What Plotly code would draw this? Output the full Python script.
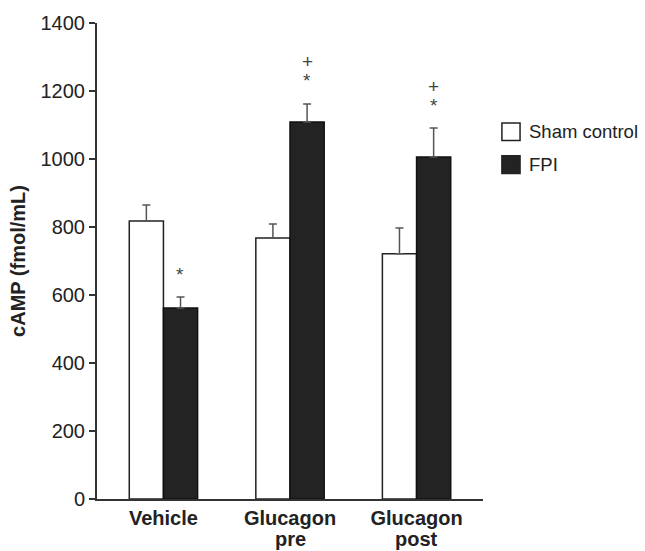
import plotly.graph_objects as go

categories = ["Vehicle", "Glucagon pre", "Glucagon post"]
label_line1 = ["Vehicle", "Glucagon", "Glucagon"]
label_line2 = ["", "pre", "post"]
series_names = ["Sham control", "FPI"]
sham_values = [818, 768, 721]
sham_err = [47, 41, 76]
fpi_values = [562, 1109, 1006]
fpi_err = [32, 53, 85]
fpi_star = [True, True, True]
fpi_plus = [False, True, True]
y_ticks = [0, 200, 400, 600, 800, 1000, 1200, 1400]

FONT = "Liberation Sans, Arial, sans-serif"
sham_fill, fpi_fill = "white", "#232323"

fig = go.Figure()
fig.add_trace(go.Bar(
    name=series_names[0], x=categories, y=sham_values,
    marker=dict(color=sham_fill, line=dict(color="#222", width=1.5)),
    error_y=dict(type="data", symmetric=False, array=sham_err, arrayminus=[0] * 3,
                 color="#555", thickness=1.5, width=4),
))
fig.add_trace(go.Bar(
    name=series_names[1], x=categories, y=fpi_values,
    marker=dict(color=fpi_fill, line=dict(color="#111", width=1.5)),
    error_y=dict(type="data", symmetric=False, array=fpi_err, arrayminus=[0] * 3,
                 color="#555", thickness=1.5, width=4),
))

# significance marks above FPI bars
for cat, v, e, s, p in zip(categories, fpi_values, fpi_err, fpi_star, fpi_plus):
    if s:
        fig.add_annotation(x=cat, y=v + e, text="*", showarrow=False, xshift=17,
                           yshift=23, font=dict(size=19, color="#444", family=FONT))
    if p:
        fig.add_annotation(x=cat, y=v + e, text="+", showarrow=False, xshift=17,
                           yshift=42, font=dict(size=19, color="#444", family=FONT))

# second line of category labels
for cat, l2 in zip(categories, label_line2):
    if l2:
        fig.add_annotation(x=cat, y=0, yref="paper", text="<b>%s</b>" % l2, showarrow=False,
                           yanchor="top", yshift=-27, font=dict(size=20, color="#222", family=FONT))

# legend (boxes + labels)
leg = [(series_names[0], sham_fill, 0.790), (series_names[1], fpi_fill, 0.721)]
for name, fill, ytop in leg:
    fig.add_shape(type="rect", xref="paper", yref="paper", x0=1.049, x1=1.096,
                  y0=ytop - 0.037, y1=ytop, fillcolor=fill, line=dict(color="#222", width=1.5))
    fig.add_annotation(xref="paper", yref="paper", x=1.113, y=ytop - 0.0185, text=name,
                       xanchor="left", yanchor="middle", showarrow=False,
                       font=dict(size=18.5, color="#222", family=FONT))

fig.update_layout(
    width=645, height=551,
    margin=dict(l=97, r=162, t=23, b=52),
    plot_bgcolor="white", paper_bgcolor="white",
    barmode="group", bargap=0.46, bargroupgap=0,
    font=dict(family=FONT, color="#222", size=20),
    showlegend=False,
)
fig.update_yaxes(
    range=[0, 1400], tickvals=y_ticks, showgrid=False, zeroline=False,
    showline=True, linecolor="#333", linewidth=2,
    ticks="outside", ticklen=6, tickwidth=1.5, tickcolor="#333",
    tickfont=dict(size=20, color="#222"),
    title=dict(text="<b>cAMP (fmol/mL)</b>", font=dict(size=20, color="#222"), standoff=10),
)
fig.update_xaxes(
    range=[-0.525, 2.525], showgrid=False, showline=True, linecolor="#333", linewidth=2,
    ticks="", tickfont=dict(size=20, color="#222"),
    tickvals=categories, ticktext=["<b>%s</b>" % t for t in label_line1],
)
fig.write_html("out.html", config={"displayModeBar": False},
               post_script="document.body.style.margin='0';")
